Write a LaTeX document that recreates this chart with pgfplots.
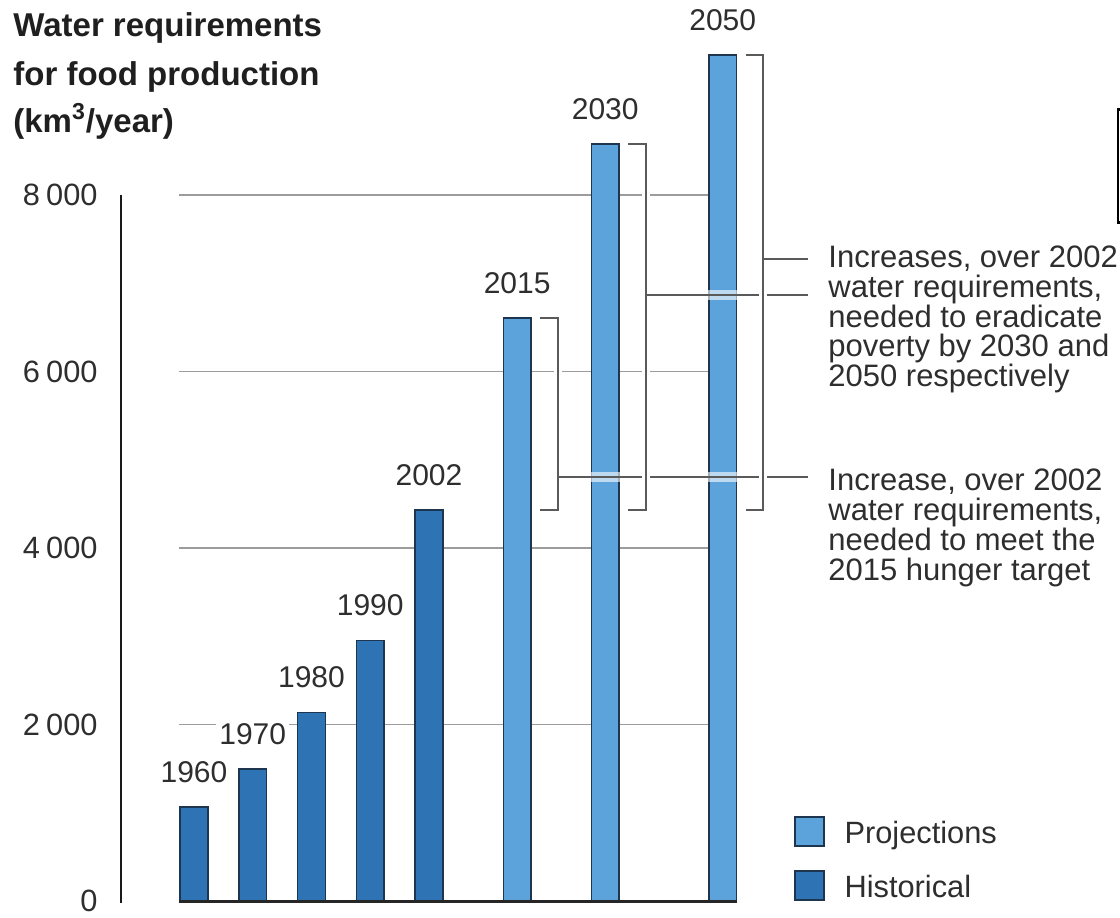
\documentclass[border=0pt]{standalone}
\usepackage{pgfplots}
\usepackage{pgfplotstable}
\pgfplotsset{compat=1.18}
\usepackage{fontspec}
\setmainfont{Liberation Sans}

\definecolor{histblue}{HTML}{2E73B3}
\definecolor{projblue}{HTML}{5CA3DB}
\definecolor{barline}{HTML}{1E3550}
\definecolor{gridgray}{HTML}{9C9C9C}
\definecolor{leadgray}{HTML}{5A5A5A}
\definecolor{txt}{HTML}{2E2E2E}

% legend key: a plain square in the bar style
\pgfplotsset{square legend/.style={
  legend image code/.code={\draw[##1, line width=0.75pt] (0pt,-7.25pt) rectangle (14.5pt,7.25pt);}}}

% position on the x axis, requirement (km3/year), year label
\pgfplotstableread{
pos value label
0 1065 1960
1 1496 1970
2 2138 1980
3 2950 1990
4 4430 2002
}\historical
\pgfplotstableread{
pos value label
5.5 6603 2015
7 8578 2030
9 9587 2050
}\projections

\begin{document}
\begin{tikzpicture}
\begin{axis}[
  set layers,
  at={(60.28125pt,-450.5pt)}, anchor=south west,
  x=29.375pt, y=0.044125pt,
  xmin=-1.25, xmax=10.5, ymin=0, ymax=10000,
  clip=false,
  axis line style={draw=none},
  tick style={draw=none},
  major tick length=0pt,
  xtick=\empty,
  ytick={0,2000,4000,6000,8000},
  yticklabels={0,2\hspace{0.2em}000,4\hspace{0.2em}000,6\hspace{0.2em}000,8\hspace{0.2em}000},
  yticklabel style={anchor=east, inner sep=0pt, xshift=-11.3pt,
    font=\fontsize{15.4}{18}\selectfont, text=txt},
  legend style={draw=none, fill=none, inner sep=0pt, outer sep=0pt,
    at={(0.9756,0.0958)}, anchor=north west,
    row sep=11.75pt, column sep=10pt,
    nodes={inner sep=0pt, text height=13pt, text depth=1pt},
    font=\fontsize{15.4}{18}\selectfont, text=txt},
  legend cell align=left,
  every node near coord/.append style={anchor=center, yshift=17.5pt,
    fill=white, inner sep=1.5pt, font=\fontsize{15}{18}\selectfont, text=txt},
]

% horizontal grid, stopping at the last bar
\begin{pgfonlayer}{axis grid}
\draw[gridgray, line width=0.9pt] (axis cs:-0.25,2000) -- (axis cs:8.75,2000);
\draw[gridgray, line width=0.9pt] (axis cs:-0.25,4000) -- (axis cs:8.75,4000);
\draw[gridgray, line width=0.9pt] (axis cs:-0.25,6000) -- (axis cs:8.75,6000);
\draw[gridgray, line width=0.9pt] (axis cs:-0.25,8000) -- (axis cs:8.75,8000);
\end{pgfonlayer}

\addplot[ybar, bar width=0.47, bar shift=0pt, fill=projblue, draw=barline,
  line width=0.75pt, square legend,
  nodes near coords, point meta=explicit symbolic]
  table[x=pos, y=value, meta=label] {\projections};
\addlegendentry{Projections}

\addplot[ybar, bar width=0.47, bar shift=0pt, fill=histblue, draw=barline,
  line width=0.75pt, square legend,
  nodes near coords, point meta=explicit symbolic]
  table[x=pos, y=value, meta=label] {\historical};
\addlegendentry{Historical}

\begin{pgfonlayer}{axis foreground}
% value axis and base line
\draw[black!90, line width=1pt] (axis cs:-1.2426,8000) -- (axis cs:-1.2426,-25);
\draw[black!85, line width=1.5pt] (axis cs:-0.25,0) -- (axis cs:9.25,0);

% leader lines towards the notes, with a light halo where they cross bars
\draw[white, opacity=0.6, line width=5pt] (axis cs:6.19,4805) -- (axis cs:10.451,4805);
\draw[white, opacity=0.6, line width=5pt] (axis cs:7.69,6867) -- (axis cs:10.451,6867);
\draw[white, opacity=0.6, line width=5pt] (axis cs:9.69,7275) -- (axis cs:10.451,7275);
\draw[leadgray, line width=1pt] (axis cs:6.19,4805) -- (axis cs:10.451,4805);
\draw[leadgray, line width=1pt] (axis cs:7.69,6867) -- (axis cs:10.451,6867);
\draw[leadgray, line width=1pt] (axis cs:9.69,7275) -- (axis cs:10.451,7275);

% brackets: from the 2002 level up to each projection
\draw[white, line width=4pt] (axis cs:6.19,6603) -- (axis cs:6.19,4430);
\draw[white, line width=4pt] (axis cs:7.69,8578) -- (axis cs:7.69,4430);
\draw[white, line width=4pt] (axis cs:9.69,9587) -- (axis cs:9.69,4430);
\draw[leadgray, line width=1pt] (axis cs:5.89,6603) -- (axis cs:6.19,6603) -- (axis cs:6.19,4430) -- (axis cs:5.89,4430);
\draw[leadgray, line width=1pt] (axis cs:7.39,8578) -- (axis cs:7.69,8578) -- (axis cs:7.69,4430) -- (axis cs:7.39,4430);
\draw[leadgray, line width=1pt] (axis cs:9.39,9587) -- (axis cs:9.69,9587) -- (axis cs:9.69,4430) -- (axis cs:9.39,4430);
\draw[leadgray, line width=1pt] (axis cs:6.19,4805) -- (axis cs:6.35,4805);
\draw[leadgray, line width=1pt] (axis cs:7.69,6867) -- (axis cs:7.85,6867);
\draw[leadgray, line width=1pt] (axis cs:9.69,7275) -- (axis cs:9.85,7275);
\end{pgfonlayer}
\end{axis}

% texts around the plot, placed on a grid of half points measured from the top
\begin{scope}[x=0.5pt, y=-0.5pt]
\begin{scope}[every node/.style={anchor=base west, inner sep=0pt, text=black!88,
    font=\fontsize{16.5}{20}\selectfont\bfseries}]
\node at (13,36) {Water requirements};
\node at (13,85) {for food production};
\node at (13,132) {(km\textsuperscript{3}/year)};
\end{scope}

\begin{scope}[every node/.style={anchor=base west, inner sep=0pt, text=txt,
    font=\fontsize{15.5}{15}\selectfont}]
\node at (828,267) {Increases, over 2002};
\node at (828,297) {water requirements,};
\node at (828,327) {needed to eradicate};
\node at (828,356) {poverty by 2030 and};
\node at (828,386) {2050 respectively};
\node at (828,490) {Increase, over 2002};
\node at (828,520) {water requirements,};
\node at (828,550) {needed to meet the};
\node at (828,580) {2015 hunger target};
\end{scope}

% edge of the neighbouring panel
\draw[black, line width=1.2pt] (1135,109.5) -- (1118.2,109.5) -- (1118.2,222.5) -- (1135,222.5);

\pgfresetboundingbox
\path (0,0) rectangle (1120,917);
\end{scope}
\end{tikzpicture}
\end{document}
